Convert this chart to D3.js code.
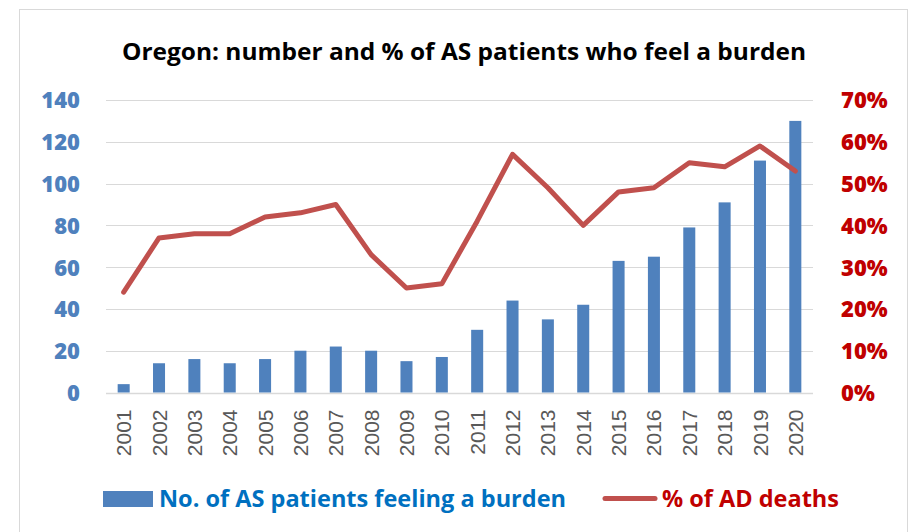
<!DOCTYPE html>
<html>
<head>
<meta charset="utf-8">
<script src="https://cdn.jsdelivr.net/npm/d3@7"></script>
<style>
  body { margin: 0; background: #fff; }
  svg { display: block; }
</style>
</head>
<body>
<div id="chart"></div>
<script>
// data
const years = ['2001','2002','2003','2004','2005','2006','2007','2008','2009','2010',
               '2011','2012','2013','2014','2015','2016','2017','2018','2019','2020'];
const patients = [4,14,16,14,16,20,22,20,15,17,30,44,35,42,63,65,79,91,111,130];
const pctDeaths = [24,37,38,38,42,43,45,33,25,26,41,57,49,40,48,49,55,54,59,53];
const leftTicks = [0,20,40,60,80,100,120,140];
const rightTicks = [0,10,20,30,40,50,60,70];

const W = 912, H = 532;
const margin = {left: 106, right: 99, top: 100, bottom: 139.5};

const svg = d3.select('#chart').append('svg')
  .attr('width', W).attr('height', H);

// chart frame
svg.append('rect')
  .attr('x', 19.5).attr('y', 9.5)
  .attr('width', 888).attr('height', 540)
  .attr('fill', 'none').attr('stroke', '#d9d9d9').attr('stroke-width', 1);

const x = d3.scaleBand().domain(years)
  .range([margin.left, W - margin.right]).paddingInner(0.66).paddingOuter(0.33);
const yL = d3.scaleLinear().domain([0, 140]).range([H - margin.bottom, margin.top]);
const yR = d3.scaleLinear().domain([0, 70]).range([H - margin.bottom, margin.top]);

// gridlines
svg.append('g').selectAll('line').data(leftTicks).enter().append('line')
  .attr('x1', margin.left).attr('x2', W - margin.right)
  .attr('y1', d => Math.round(yL(d)) + 0.5).attr('y2', d => Math.round(yL(d)) + 0.5)
  .attr('stroke', '#d9d9d9').attr('stroke-width', d => d === 0 ? 1.5 : 1.2);

// title
svg.append('text')
  .attr('x', 464).attr('y', 60)
  .attr('text-anchor', 'middle')
  .attr('textLength', 684).attr('lengthAdjust', 'spacingAndGlyphs')
  .style('font-family', 'Open Sans').style('font-weight', 'bold').style('font-size', '23px')
  .attr('fill', '#000')
  .text('Oregon: number and % of AS patients who feel a burden');

// left axis
const leftAxis = svg.append('g')
  .attr('transform', `translate(80,0)`)
  .call(d3.axisLeft(yL).tickValues(leftTicks).tickSize(0).tickPadding(0));
leftAxis.select('.domain').remove();
leftAxis.selectAll('text')
  .attr('dy', '0.36em')
  .style('font-family', 'Open Sans').style('font-weight', 800).style('font-size', '22px')
  .attr('fill', '#4f81bd');

// right axis
const rightAxis = svg.append('g')
  .attr('transform', `translate(841,0)`)
  .call(d3.axisRight(yR).tickValues(rightTicks).tickSize(0).tickPadding(0)
    .tickFormat(d => d + '%'));
rightAxis.select('.domain').remove();
rightAxis.selectAll('text')
  .attr('dy', '0.36em')
  .style('font-family', 'Open Sans').style('font-weight', 800).style('font-size', '22px')
  .attr('fill', '#c00000');

// x axis labels (rotated)
const xAxis = svg.append('g')
  .attr('transform', `translate(0,${H - margin.bottom})`)
  .call(d3.axisBottom(x).tickSize(0).tickPadding(0));
xAxis.select('.domain').remove();
xAxis.selectAll('text')
  .attr('transform', 'rotate(-90)')
  .attr('x', -17).attr('y', 0).attr('dy', '0.36em')
  .attr('text-anchor', 'end')
  .style('font-family', 'Liberation Sans').style('font-size', '21px')
  .attr('fill', '#595959');

// bars
svg.append('g').selectAll('rect').data(years).enter().append('rect')
  .attr('x', d => x(d))
  .attr('width', x.bandwidth())
  .attr('y', (d, i) => yL(patients[i]))
  .attr('height', (d, i) => yL(0) - yL(patients[i]))
  .attr('fill', '#4f81bd');

// line
const line = d3.line()
  .x((d, i) => x(years[i]) + x.bandwidth() / 2)
  .y(d => yR(d));
svg.append('path').datum(pctDeaths)
  .attr('d', line)
  .attr('fill', 'none').attr('stroke', '#c0504d')
  .attr('stroke-width', 5).attr('stroke-linejoin', 'round').attr('stroke-linecap', 'round');

// legend
const lg = svg.append('g');
lg.append('rect').attr('x', 103).attr('y', 491).attr('width', 50).attr('height', 16)
  .attr('fill', '#4f81bd');
lg.append('text').attr('x', 159).attr('y', 507)
  .attr('textLength', 407).attr('lengthAdjust', 'spacingAndGlyphs')
  .style('font-family', 'Open Sans').style('font-weight', 'bold').style('font-size', '23px')
  .attr('fill', '#0070c0')
  .text('No. of AS patients feeling a burden');
lg.append('line').attr('x1', 605).attr('x2', 655).attr('y1', 498.5).attr('y2', 498.5)
  .attr('stroke', '#c0504d').attr('stroke-width', 5).attr('stroke-linecap', 'round');
lg.append('text').attr('x', 662).attr('y', 507)
  .attr('textLength', 177).attr('lengthAdjust', 'spacingAndGlyphs')
  .style('font-family', 'Open Sans').style('font-weight', 'bold').style('font-size', '23px')
  .attr('fill', '#c00000')
  .text('% of AD deaths');
</script>
</body>
</html>
